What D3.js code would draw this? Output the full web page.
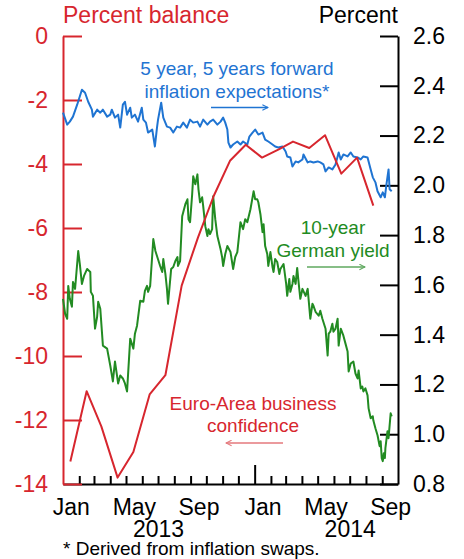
<!DOCTYPE html>
<html>
<head>
<meta charset="utf-8">
<script src="https://cdn.jsdelivr.net/npm/d3@7"></script>
<style>
  html, body { margin: 0; padding: 0; background: #fff; }
  svg { display: block; font-family: "Liberation Sans", Arial, sans-serif; }
</style>
</head>
<body>
<svg id="chart" width="464" height="559"></svg>
<script>
// Euro-Area business confidence, monthly (percent balance, left axis)
const confidenceDates = ["2013-01-15","2013-02-15","2013-03-15","2013-04-15","2013-05-15","2013-06-15",
  "2013-07-15","2013-08-15","2013-09-15","2013-10-15","2013-11-15","2013-12-15",
  "2014-01-15","2014-02-15","2014-03-15","2014-04-15","2014-05-15","2014-06-15","2014-07-15","2014-08-15"];
const confidenceValues = [-13.3,-11.1,-12.2,-13.8,-13.0,-11.2,-10.6,-7.8,-6.3,-5.0,-3.9,-3.4,
  -3.8,-3.55,-3.3,-3.5,-3.1,-4.3,-3.8,-5.3];

// 10-year German government bond yield (percent, right axis)
const yieldDates = ["2013-01-01","2013-01-05","2013-01-09","2013-01-11","2013-01-14","2013-01-18","2013-01-20","2013-01-24",
  "2013-01-30","2013-02-02","2013-02-06","2013-02-10","2013-02-16","2013-02-22","2013-02-23","2013-02-27",
  "2013-03-03","2013-03-07","2013-03-09","2013-03-13","2013-03-18","2013-03-26","2013-04-01","2013-04-06",
  "2013-04-10","2013-04-16","2013-04-20","2013-04-25","2013-04-29","2013-05-03","2013-05-09","2013-05-15",
  "2013-05-18","2013-05-22","2013-05-28","2013-06-03","2013-06-06","2013-06-10","2013-06-12","2013-06-16",
  "2013-06-22","2013-06-26","2013-06-29","2013-07-05","2013-07-09","2013-07-11","2013-07-15","2013-07-18",
  "2013-07-20","2013-07-26","2013-07-30","2013-08-03","2013-08-07","2013-08-08","2013-08-12","2013-08-16",
  "2013-08-18","2013-08-22","2013-08-26","2013-08-28","2013-08-31","2013-09-04","2013-09-06","2013-09-10",
  "2013-09-14","2013-09-16","2013-09-19","2013-09-23","2013-09-25","2013-09-29","2013-10-03","2013-10-05",
  "2013-10-08","2013-10-12","2013-10-14","2013-10-18","2013-10-22","2013-10-28","2013-10-31","2013-11-02",
  "2013-11-06","2013-11-10","2013-11-16","2013-11-21","2013-11-25","2013-11-29","2013-12-05","2013-12-10",
  "2013-12-14","2013-12-18","2013-12-24","2013-12-30","2014-01-02","2014-01-06","2014-01-08","2014-01-12",
  "2014-01-16","2014-01-18","2014-01-21","2014-01-25","2014-01-27","2014-01-31","2014-02-04","2014-02-06",
  "2014-02-09","2014-02-13","2014-02-17","2014-02-19","2014-02-25","2014-03-02","2014-03-04","2014-03-08",
  "2014-03-10","2014-03-14","2014-03-16","2014-03-20","2014-03-23","2014-03-25","2014-03-29","2014-04-02",
  "2014-04-08","2014-04-12","2014-04-17","2014-04-21","2014-04-23","2014-04-27","2014-05-03","2014-05-06",
  "2014-05-10","2014-05-16","2014-05-20","2014-05-22","2014-05-25","2014-05-29","2014-05-31","2014-06-04",
  "2014-06-08","2014-06-10","2014-06-14","2014-06-19","2014-06-23","2014-06-27","2014-06-29","2014-07-03",
  "2014-07-08","2014-07-12","2014-07-16","2014-07-18","2014-07-22","2014-07-25","2014-07-27","2014-07-31",
  "2014-08-04","2014-08-06","2014-08-10","2014-08-14","2014-08-15","2014-08-19","2014-08-23","2014-08-27",
  "2014-08-29","2014-08-31","2014-09-02","2014-09-04","2014-09-06","2014-09-07","2014-09-11","2014-09-13",
  "2014-09-17","2014-09-19"];
const yieldValues = [1.544,1.484,1.464,1.596,1.544,1.512,1.612,1.584,
  1.736,1.684,1.604,1.636,1.664,1.652,1.572,1.556,
  1.424,1.472,1.532,1.504,1.356,1.344,1.276,1.212,
  1.292,1.204,1.236,1.224,1.204,1.172,1.384,1.344,
  1.404,1.436,1.536,1.532,1.576,1.596,1.572,1.596,
  1.784,1.736,1.716,1.676,1.652,1.704,1.644,1.584,
  1.524,1.664,1.672,1.696,1.712,1.676,1.696,1.876,
  1.892,1.924,1.944,1.864,1.852,1.964,2.036,2.004,
  2.044,1.984,1.932,1.952,1.916,1.836,1.796,1.824,
  1.804,1.824,1.956,1.864,1.796,1.744,1.712,1.676,
  1.724,1.756,1.732,1.664,1.712,1.732,1.852,1.824,
  1.864,1.852,1.904,1.976,1.944,1.944,1.932,1.884,
  1.812,1.844,1.756,1.724,1.676,1.732,1.672,1.652,
  1.704,1.692,1.644,1.664,1.684,1.604,1.556,1.624,
  1.572,1.604,1.636,1.604,1.668,1.624,1.544,1.584,
  1.556,1.584,1.464,1.524,1.516,1.492,1.476,1.496,
  1.464,1.424,1.316,1.404,1.412,1.444,1.412,1.424,
  1.464,1.356,1.424,1.396,1.364,1.332,1.252,1.284,
  1.292,1.244,1.224,1.256,1.184,1.192,1.172,1.184,
  1.156,1.104,1.064,1.072,1.056,1.024,0.996,0.952,
  0.972,0.904,0.892,0.924,0.904,0.944,1.012,0.984,
  1.084,1.072];

// 5-year, 5-years-forward inflation expectations (percent, right axis)
const swapDates = ["2013-01-01","2013-01-09","2013-01-14","2013-01-20","2013-01-28","2013-02-06","2013-02-12","2013-02-18",
  "2013-02-25","2013-02-27","2013-03-07","2013-03-13","2013-03-18","2013-03-26","2013-04-01","2013-04-04",
  "2013-04-10","2013-04-16","2013-04-20","2013-04-25","2013-04-29","2013-05-03","2013-05-09","2013-05-12",
  "2013-05-18","2013-05-24","2013-05-31","2013-06-03","2013-06-08","2013-06-12","2013-06-20","2013-06-25",
  "2013-06-29","2013-07-01","2013-07-07","2013-07-11","2013-07-18","2013-07-24","2013-07-30","2013-08-06",
  "2013-08-12","2013-08-18","2013-08-25","2013-08-31","2013-09-06","2013-09-14","2013-09-19","2013-09-25",
  "2013-10-03","2013-10-08","2013-10-14","2013-10-22","2013-10-28","2013-11-02","2013-11-06","2013-11-10",
  "2013-11-12","2013-11-16","2013-11-21","2013-11-29","2013-12-05","2013-12-10","2013-12-18","2013-12-22",
  "2013-12-28","2014-01-02","2014-01-08","2014-01-16","2014-01-21","2014-01-27","2014-02-04","2014-02-09",
  "2014-02-15","2014-02-23","2014-03-01","2014-03-04","2014-03-10","2014-03-14","2014-03-20","2014-03-25",
  "2014-04-02","2014-04-04","2014-04-12","2014-04-17","2014-04-23","2014-05-01","2014-05-06","2014-05-12",
  "2014-05-16","2014-05-22","2014-05-29","2014-06-04","2014-06-10","2014-06-14","2014-06-19","2014-06-27",
  "2014-07-03","2014-07-08","2014-07-16","2014-07-22","2014-07-27","2014-08-04","2014-08-10","2014-08-14",
  "2014-08-19","2014-08-23","2014-08-29","2014-09-02","2014-09-06","2014-09-09","2014-09-13","2014-09-15",
  "2014-09-19"];
const swapValues = [2.292,2.244,2.256,2.276,2.324,2.384,2.372,2.336,
  2.304,2.276,2.304,2.292,2.304,2.276,2.284,2.304,
  2.272,2.284,2.232,2.324,2.336,2.284,2.312,2.272,
  2.284,2.256,2.312,2.264,2.252,2.212,2.224,2.156,
  2.232,2.264,2.332,2.272,2.236,2.232,2.212,2.236,
  2.232,2.252,2.232,2.264,2.252,2.256,2.236,2.264,
  2.244,2.256,2.264,2.244,2.256,2.272,2.252,2.224,
  2.172,2.152,2.164,2.176,2.164,2.176,2.164,2.196,
  2.212,2.224,2.204,2.212,2.184,2.176,2.164,2.156,
  2.152,2.156,2.136,2.116,2.112,2.076,2.096,2.092,
  2.104,2.124,2.092,2.096,2.092,2.096,2.092,2.084,
  2.056,2.072,2.064,2.084,2.132,2.104,2.124,2.116,
  2.132,2.116,2.112,2.104,2.116,2.112,2.064,2.032,
  2.012,1.976,1.952,1.972,1.952,2.004,2.064,1.984,
  1.976];

// Axis ticks
const leftTicks = [0, -2, -4, -6, -8, -10, -12, -14];
const rightTicks = [2.6, 2.4, 2.2, 2.0, 1.8, 1.6, 1.4, 1.2, 1.0, 0.8];
const monthLabels = ["Jan", "May", "Sep", "Jan", "May", "Sep"];
const monthLabelDates = ["2013-01-16","2013-05-16","2013-09-16","2014-01-16","2014-05-16","2014-09-16"];
const yearLabels = ["2013", "2014"];
const yearLabelDates = ["2013-07-01","2014-07-01"];

const RED = "#d7262e", BLUE = "#1f74d2", GREEN = "#228b22", BLACK = "#000";
const FONT = "Liberation Sans, Arial, sans-serif";
const parse = d3.utcParse("%Y-%m-%d");

const svg = d3.select("#chart");
const plotLeft = 63, plotRight = 398, plotTop = 36, plotBottom = 484;

const x = d3.scaleUtc().domain([parse("2013-01-01"), parse("2014-10-01")]).range([plotLeft, plotRight]);
const yL = d3.scaleLinear().domain([-14, 0]).range([plotBottom, plotTop]);
const yR = d3.scaleLinear().domain([0.8, 2.6]).range([plotBottom, plotTop]);

const zip = (ds, vs) => ds.map((d, i) => ({ date: parse(d), value: vs[i] }));
const confidence = zip(confidenceDates, confidenceValues);
const yields = zip(yieldDates, yieldValues);
const swaps = zip(swapDates, swapValues);

// Bottom (time) axis: monthly ticks pointing up, a taller one at the year break
const monthTicks = d3.utcMonth.range(parse("2013-02-01"), parse("2014-10-01"));
const gx = svg.append("g").attr("transform", `translate(0,${plotBottom})`)
  .call(d3.axisBottom(x).tickValues(monthTicks).tickSize(-8).tickSizeOuter(0).tickFormat(""));
gx.select(".domain").attr("stroke", BLACK).attr("stroke-width", 2);
gx.selectAll(".tick line").attr("stroke", BLACK).attr("stroke-width", 2)
  .attr("y2", d => +d === +parse("2014-01-01") ? -19 : -8);

// Month labels
const gm = svg.append("g").attr("transform", `translate(0,${plotBottom})`)
  .call(d3.axisBottom(x).tickValues(monthLabelDates.map(parse)).tickSize(0).tickPadding(15)
    .tickFormat((d, i) => monthLabels[i]));
gm.select(".domain").remove();
gm.selectAll("text").attr("font-size", 23).attr("font-family", FONT).attr("fill", BLACK);

// Year labels
const gy = svg.append("g").attr("transform", `translate(0,${plotBottom})`)
  .call(d3.axisBottom(x).tickValues(yearLabelDates.map(parse)).tickSize(0).tickPadding(37)
    .tickFormat((d, i) => yearLabels[i]));
gy.select(".domain").remove();
gy.selectAll("text").attr("font-size", 23).attr("font-family", FONT).attr("fill", BLACK);

// Left axis (percent balance)
const gl = svg.append("g").attr("transform", `translate(${plotLeft},0)`)
  .call(d3.axisLeft(yL).tickValues(leftTicks).tickSize(-19).tickSizeOuter(0).tickPadding(15)
    .tickFormat(d => d < 0 ? "-" + Math.abs(d) : String(d)));
gl.select(".domain").attr("stroke", RED).attr("stroke-width", 2);
gl.selectAll(".tick line").attr("stroke", RED).attr("stroke-width", 2);
gl.selectAll("text").attr("font-size", 23).attr("font-family", FONT).attr("fill", RED);

// Right axis (percent)
const gr = svg.append("g").attr("transform", `translate(${plotRight},0)`)
  .call(d3.axisRight(yR).tickValues(rightTicks).tickSize(-18).tickSizeOuter(0).tickPadding(15)
    .tickFormat(d3.format(".1f")));
gr.select(".domain").attr("stroke", BLACK).attr("stroke-width", 2);
gr.selectAll(".tick line").attr("stroke", BLACK).attr("stroke-width", 2);
gr.selectAll("text").attr("font-size", 23).attr("font-family", FONT).attr("fill", BLACK);

// Axis titles
svg.append("text").attr("x", plotLeft).attr("y", 23).attr("font-size", 23).attr("fill", RED).text("Percent balance");
svg.append("text").attr("x", plotRight).attr("y", 23).attr("font-size", 23).attr("fill", BLACK)
  .attr("text-anchor", "end").text("Percent");

// Series
const lineR = d3.line().x(d => x(d.date)).y(d => yR(d.value));
const lineL = d3.line().x(d => x(d.date)).y(d => yL(d.value));

svg.append("path").datum(yields).attr("d", lineR).attr("fill", "none")
  .attr("stroke", GREEN).attr("stroke-width", 2).attr("stroke-linejoin", "round");
svg.append("path").datum(swaps).attr("d", lineR).attr("fill", "none")
  .attr("stroke", BLUE).attr("stroke-width", 2).attr("stroke-linejoin", "round");
svg.append("path").datum(confidence).attr("d", lineL).attr("fill", "none")
  .attr("stroke", RED).attr("stroke-width", 2).attr("stroke-linejoin", "round");

// Series annotations with arrows toward their axes
const defs = svg.append("defs");
function marker(id, color) {
  defs.append("marker").attr("id", id).attr("viewBox", "0 0 10 10").attr("refX", 9).attr("refY", 5)
    .attr("markerWidth", 7).attr("markerHeight", 7).attr("markerUnits", "userSpaceOnUse").attr("orient", "auto")
    .append("path").attr("d", "M1,1 L9,5 L1,9").attr("fill", "none").attr("stroke", color).attr("stroke-width", 1.5);
}
marker("arrBlue", BLUE);
marker("arrGreen", "#5fa85f");
marker("arrRed", "#e4797d");

function label(lines, cx, y0, dy, color) {
  const t = svg.append("text").attr("font-size", 19).attr("fill", color).attr("text-anchor", "middle");
  lines.forEach((s, i) => t.append("tspan").attr("x", cx).attr("y", y0 + i * dy).text(s));
}
function arrow(x1, x2, y, color, id) {
  svg.append("line").attr("x1", x1).attr("x2", x2).attr("y1", y).attr("y2", y)
    .attr("stroke", color).attr("stroke-width", 1.5).attr("marker-end", `url(#${id})`);
}

label(["5 year, 5 years forward", "inflation expectations*"], 237, 75, 23, BLUE);
arrow(211, 268, 107.5, BLUE, "arrBlue");

label(["10-year", "German yield"], 333, 234, 23, GREEN);
arrow(307, 365, 267, "#5fa85f", "arrGreen");

label(["Euro-Area business", "confidence"], 253, 410, 22, RED);
arrow(283, 226, 443, "#e4797d", "arrRed");

// Footnote
svg.append("text").attr("x", plotLeft).attr("y", 555).attr("font-size", 19).attr("fill", BLACK)
  .text("* Derived from inflation swaps.");
</script>
</body>
</html>
